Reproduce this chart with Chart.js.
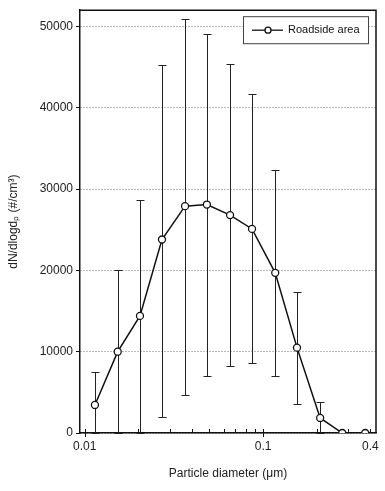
<!DOCTYPE html>
<html>
<head>
<meta charset="utf-8">
<script src="https://cdn.jsdelivr.net/npm/chart.js@4/dist/chart.umd.min.js"></script>
<style>
  html, body { margin: 0; padding: 0; background: #fff; }
  #wrap { width: 385px; height: 491px; }
</style>
</head>
<body>
<div id="wrap"><canvas id="psd"></canvas></div>
<script>
// particle size bins (um) and roadside number concentrations
const diameters = [0.0114, 0.0153, 0.0204, 0.0271, 0.0365, 0.0484, 0.0653, 0.0867, 0.117, 0.155, 0.209, 0.278, 0.374];
const concentration = [3450, 10000, 14400, 23800, 27900, 28100, 26800, 25100, 19700, 10500, 1850, 0, 0];
const errHigh = [7500, 20100, 28700, 45300, 50900, 49100, 45400, 41700, 32400, 17400, 3850, null, null];
const errLow = [0, 0, 0, 2000, 4700, 7000, 8200, 8600, 7000, 3550, 0, null, null];
const xTicks = [0.01, 0.02, 0.03, 0.04, 0.05, 0.06, 0.07, 0.08, 0.09, 0.1, 0.2, 0.3, 0.4];
const xLabels = [0.01, 0.1, 0.4];
const yTicks = [0, 10000, 20000, 30000, 40000, 50000];
const seriesName = 'Roadside area';

const font = "'Liberation Sans', Arial, sans-serif";

const errorBars = {
  id: 'errorBars',
  beforeDatasetsDraw(chart) {
    const { ctx, scales: { x, y } } = chart;
    ctx.save();
    ctx.strokeStyle = '#222';
    ctx.lineWidth = 1;
    diameters.forEach((d, i) => {
      if (errHigh[i] == null) return;
      const px = Math.round(x.getPixelForValue(d)) + 0.5;
      const top = Math.round(y.getPixelForValue(errHigh[i])) + 0.5;
      const bot = Math.round(y.getPixelForValue(errLow[i])) + 0.5;
      ctx.beginPath();
      ctx.moveTo(px, top); ctx.lineTo(px, bot);
      ctx.moveTo(px - 4, top); ctx.lineTo(px + 4, top);
      ctx.moveTo(px - 4, bot); ctx.lineTo(px + 4, bot);
      ctx.stroke();
    });
    ctx.restore();
  }
};

// frame, x ticks (inward, majors also outward) and boxed legend
const frame = {
  id: 'frame',
  afterDraw(chart) {
    const { ctx, chartArea: a, scales: { x } } = chart;
    ctx.save();
    ctx.strokeStyle = '#111';
    ctx.lineWidth = 1.5;
    ctx.beginPath();
    ctx.moveTo(a.left, a.top); ctx.lineTo(a.right, a.top); ctx.lineTo(a.right, a.bottom);
    ctx.stroke();

    ctx.lineWidth = 1;
    ctx.beginPath();
    xTicks.forEach(v => {
      const px = Math.round(x.getPixelForValue(v)) + 0.5;
      const major = v === 0.01 || v === 0.1;
      ctx.moveTo(px, a.bottom - 4);
      ctx.lineTo(px, a.bottom + (major ? 4 : 0));
    });
    ctx.stroke();

    const w = 125, h = 27;
    const lx = a.right - 8 - w, ly = a.top + 6;
    ctx.fillStyle = '#fff';
    ctx.fillRect(lx, ly, w, h);
    ctx.strokeStyle = '#444';
    ctx.strokeRect(lx + 0.5, ly + 0.5, w, h);
    const cy = ly + h / 2 + 0.5;
    ctx.strokeStyle = '#111';
    ctx.lineWidth = 1.3;
    ctx.beginPath(); ctx.moveTo(lx + 9, cy); ctx.lineTo(lx + 40, cy); ctx.stroke();
    ctx.beginPath(); ctx.arc(lx + 25, cy, 3, 0, Math.PI * 2);
    ctx.fillStyle = '#fff'; ctx.fill(); ctx.stroke();
    ctx.fillStyle = '#111';
    ctx.font = '11px ' + font;
    ctx.textBaseline = 'middle';
    ctx.fillText(chart.data.datasets[0].label, lx + 45, cy);
    ctx.restore();
  }
};

new Chart(document.getElementById('psd'), {
  type: 'line',
  data: {
    datasets: [{
      label: seriesName,
      data: diameters.map((d, i) => ({ x: d, y: concentration[i] })),
      borderColor: '#111',
      borderWidth: 1.5,
      pointRadius: 3.5,
      pointBorderWidth: 1.3,
      pointBackgroundColor: '#fff',
      pointBorderColor: '#111',
      tension: 0
    }]
  },
  options: {
    responsive: true,
    maintainAspectRatio: false,
    animation: false,
    layout: { padding: { top: 8, right: 9 } },
    plugins: { legend: { display: false }, tooltip: { enabled: false } },
    scales: {
      x: {
        type: 'logarithmic',
        min: 0.0094,
        max: 0.43,
        afterBuildTicks: s => { s.ticks = xTicks.map(v => ({ value: v })); },
        afterFit: s => { s.height = 58; },
        ticks: {
          autoSkip: false,
          maxRotation: 0,
          color: '#222',
          font: { family: font, size: 12 },
          padding: 6,
          callback: v => xLabels.includes(v) ? String(v) : ''
        },
        grid: { display: false, drawTicks: false },
        border: { color: '#111', width: 1.5 },
        title: {
          display: true,
          text: 'Particle diameter (μm)',
          color: '#222',
          font: { family: font, size: 12 },
          padding: { top: 0, bottom: 10 }
        }
      },
      y: {
        min: 0,
        max: 52000,
        afterBuildTicks: s => { s.ticks = yTicks.map(v => ({ value: v })); },
        afterFit: s => { s.width = 80; },
        ticks: {
          color: '#222',
          font: { family: font, size: 12 },
          padding: 3,
          callback: v => String(v)
        },
        grid: {
          color: '#777',
          lineWidth: 1,
          tickLength: 4,
          tickColor: '#111',
          tickBorderDash: [1, 0]
        },
        border: { color: '#111', width: 1.5, dash: [1, 2] },
        title: {
          display: true,
          text: 'dN/dlogdₚ (#/cm³)',
          color: '#222',
          font: { family: font, size: 12 },
          padding: { top: 6, bottom: 0 }
        }
      }
    }
  },
  plugins: [errorBars, frame]
});
</script>
</body>
</html>
